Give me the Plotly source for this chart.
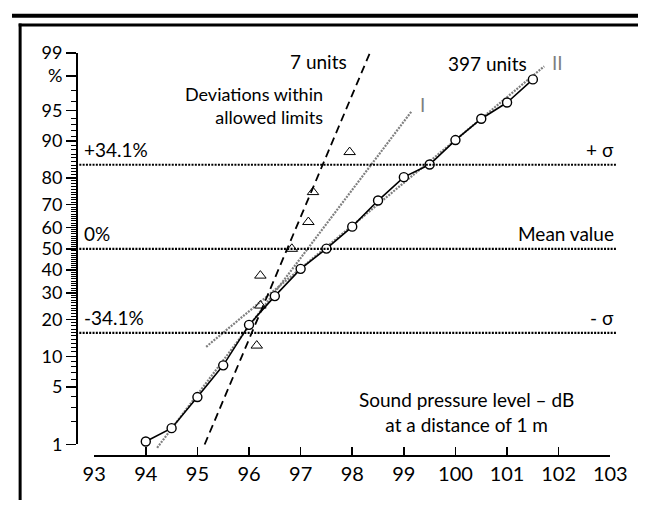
import plotly.graph_objects as go
from statistics import NormalDist

# ---------------- data ----------------
x_397 = [94.0, 94.5, 95.0, 95.5, 96.0, 96.5, 97.0, 97.5, 98.0, 98.5,
         99.0, 99.5, 100.0, 100.5, 101.0, 101.5]
p_397 = [1.1, 1.65, 3.9, 8.3, 18.3, 28.7, 40.6, 50.1, 60.4, 71.7,
         80.3, 84.2, 90.2, 93.9, 95.9, 97.8]
x_7 = [96.15, 96.22, 96.22, 96.83, 97.15, 97.24, 97.95]
p_7 = [12.5, 25.0, 37.5, 50.0, 62.5, 75.0, 87.5]
fit7_x = [95.14, 98.34]
fit7_p = [1.0, 99.0]
fitI_x = [94.22, 99.15]
fitI_p = [0.9, 94.9]
fitII_x = [95.17, 101.72]
fitII_p = [12.2, 98.5]
x_ticks = list(range(93, 104))
y_major = [1, 5, 10, 20, 30, 40, 50, 60, 70, 80, 90, 95, 98, 99]
y_major_text = ['1', '5', '10', '20', '30', '40', '50', '60', '70', '80',
                '90', '95', '%', '99']
y_minor = [v for v in range(2, 98) if v not in y_major]
sigma_levels = [84.13, 50.0, 15.87]
sigma_left = ['+34.1%', '0%', '-34.1%']
sigma_right = ['+ σ', 'Mean value', '- σ']

# ---------------- helpers ----------------
ND = NormalDist()


def z(p):
    return ND.inv_cdf(p / 100.0)


def zl(ps):
    return [z(p) for p in ps]


W, H = 655, 510
X93, XS = 86.0, 54.0      # pixel of 93 dB, pixels per dB
Y50, YS = 247.5, 87.9     # pixel of 50 %, pixels per probit unit


def fx(px):
    return px / W


def fy(py):
    return 1 - py / H


def xv(px):
    return 93 + (px - X93) / XS


def zv(py):
    return (Y50 - py) / YS


FONT = 'Lato'
BLACK = '#000000'
GREY = '#7f7f7f'

fig = go.Figure()

# invisible trace to create the display axes subplot
fig.add_trace(go.Scatter(x=[93], y=[0], xaxis='x2', yaxis='y2', mode='markers',
                         marker=dict(opacity=0), hoverinfo='skip', showlegend=False))

# fitted lines
fig.add_trace(go.Scatter(x=fitI_x, y=zl(fitI_p), mode='lines',
                         line=dict(color=GREY, width=2.2, dash='2px,1.2px'),
                         hoverinfo='skip', showlegend=False))
fig.add_trace(go.Scatter(x=fitII_x, y=zl(fitII_p), mode='lines',
                         line=dict(color=GREY, width=2.2, dash='2px,1.2px'),
                         hoverinfo='skip', showlegend=False))
fig.add_trace(go.Scatter(x=fit7_x, y=zl(fit7_p), mode='lines',
                         line=dict(color=BLACK, width=1.8, dash='8px,5px'),
                         hoverinfo='skip', showlegend=False))

# 397 units
fig.add_trace(go.Scatter(x=x_397, y=zl(p_397), mode='lines+markers',
                         line=dict(color=BLACK, width=1.6),
                         marker=dict(symbol='circle', size=9, color='white',
                                     line=dict(color=BLACK, width=1.4)),
                         showlegend=False))
# 7 units
fig.add_trace(go.Scatter(x=x_7, y=zl(p_7), mode='markers',
                         marker=dict(symbol='triangle-up-open', size=10, color=BLACK,
                                     line=dict(color=BLACK, width=1)),
                         showlegend=False))

shapes = []
for lev in sigma_levels:
    shapes.append(dict(type='line', xref='paper', yref='y', x0=fx(67), x1=fx(633),
                       y0=z(lev), y1=z(lev),
                       line=dict(color=BLACK, width=2.2, dash='2px,1.3px')))
# outer frame
shapes.append(dict(type='line', xref='paper', yref='paper', x0=0, x1=1,
                   y0=fy(4), y1=fy(4), line=dict(color=BLACK, width=4)))
shapes.append(dict(type='line', xref='paper', yref='paper', x0=fx(7), x1=1,
                   y0=fy(13.5), y1=fy(13.5), line=dict(color=BLACK, width=3)))
shapes.append(dict(type='line', xref='paper', yref='paper', x0=fx(8.5), x1=fx(8.5),
                   y0=fy(12), y1=0, line=dict(color=BLACK, width=3)))

annotations = []


def ann(text, px, py, xanchor='center', color=BLACK, size=19, align='center'):
    annotations.append(dict(text=text, xref='paper', yref='paper', x=fx(px), y=fy(py),
                            xanchor=xanchor, yanchor='middle', showarrow=False,
                            align=align,
                            font=dict(family=FONT, size=size, color=color)))


for lab, lev in zip(sigma_left, sigma_levels):
    ann(lab, 73, Y50 - YS * z(lev) - 16, xanchor='left')
for lab, lev in zip(sigma_right, sigma_levels):
    ann(lab, 632, Y50 - YS * z(lev) - 16, xanchor='right')
ann('7 units', 353, 52, xanchor='right')
ann('397 units', 541, 54, xanchor='right')
ann('II', 571, 53, color=GREY)
ann('I', 430, 97, color=GREY)
ann('Deviations within<br>allowed limits', 328, 98, xanchor='right', size=18,
    align='right')
ann('Sound pressure level – dB<br>at a distance of 1 m', 476, 418)

fig.update_layout(
    width=W, height=H, autosize=False,
    margin=dict(l=0, r=0, t=0, b=0, pad=0),
    paper_bgcolor='white', plot_bgcolor='rgba(0,0,0,0)',
    showlegend=False,
    shapes=shapes, annotations=annotations,
    xaxis=dict(domain=[fx(67), fx(633)], range=[xv(67), xv(633)], visible=False,
               fixedrange=True),
    yaxis=dict(domain=[fy(463), fy(25)], range=[zv(463), zv(25)], visible=False,
               fixedrange=True),
    xaxis2=dict(domain=[fx(X93), fx(X93 + 10 * XS)], range=[93, 103], anchor='free',
                position=fy(463), showline=True, linecolor=BLACK, linewidth=1.6,
                ticks='inside', ticklen=8, tickwidth=1.6, tickcolor=BLACK,
                tickvals=x_ticks, ticktext=[str(v) for v in x_ticks],
                tickfont=dict(family=FONT, size=20, color=BLACK),
                showgrid=False, zeroline=False, fixedrange=True),
    yaxis2=dict(domain=[fy(Y50 - YS * z(1)), fy(Y50 - YS * z(99))],
                range=[z(1), z(99)], anchor='free', position=fx(67), side='left',
                showline=True, linecolor=BLACK, linewidth=1.6,
                ticks='outside', ticklen=10, tickwidth=1.4, tickcolor=BLACK,
                tickvals=zl(y_major), ticktext=y_major_text,
                tickfont=dict(family=FONT, size=18, color=BLACK),
                minor=dict(tickvals=zl(y_minor), ticks='outside', ticklen=5,
                           tickwidth=1, tickcolor=BLACK, showgrid=False),
                showgrid=False, zeroline=False, fixedrange=True),
)

fig.write_html('out.html', config={'displayModeBar': False, 'staticPlot': True},
               post_script="document.body.style.margin='0';")
